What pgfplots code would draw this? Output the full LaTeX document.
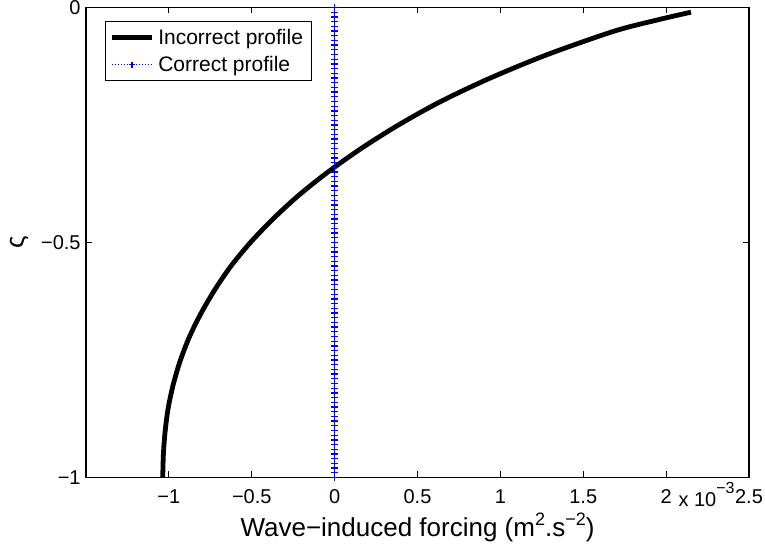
\documentclass[border=0pt]{standalone}
\usepackage{pgfplots}
\pgfplotsset{compat=1.18}
\usepackage{fontspec}
\setmainfont{Liberation Sans}

% forcing profile, x in units of 1e-3 m^2 s^-2, y = sigma
\newcommand{\incorrect}{
(-1.037,-1.00) (-1.033,-0.95) (-1.022,-0.90) (-1.003,-0.85)
(-0.972,-0.80) (-0.930,-0.75) (-0.875,-0.70) (-0.805,-0.65)
(-0.722,-0.60) (-0.625,-0.55) (-0.508,-0.50) (-0.372,-0.45)
(-0.218,-0.40) (-0.040,-0.35) (0.160,-0.30) (0.385,-0.25)
(0.640,-0.20) (0.940,-0.15) (1.285,-0.10) (1.690,-0.05)
(1.965,-0.025) (2.150,-0.010)}

\begin{document}
\begin{tikzpicture}
\begin{axis}[
  name=ax,
  scale only axis,
  width=331.5pt, height=235pt,
  xmin=-1.5, xmax=2.5, ymin=-1, ymax=0,
  xtick={-1,-0.5,0,0.5,1,1.5,2,2.5},
  xticklabels={−1,−0.5,0,0.5,1,1.5,2,2.5},
  ytick={-1,-0.5,0},
  yticklabels={−1,−0.5,0},
  tick align=inside,
  major tick length=3pt,
  tick style={black, line width=0.4pt},
  axis line style={line width=0.6pt},
  ticklabel style={font=\fontsize{10}{12}\selectfont},
  xticklabel style={inner sep=0pt, yshift=-6pt},
  yticklabel style={inner sep=0pt, xshift=-2.5pt},
  xlabel={Wave−induced forcing (m\raisebox{0.42em}{\fontsize{9}{10}\selectfont 2}.s\raisebox{0.42em}{\fontsize{9}{10}\selectfont −2})},
  xlabel style={at={(rel axis cs:0.5,0)}, anchor=base, yshift=-29.6pt,
    font=\fontsize{13}{15}\selectfont, inner sep=0pt},
  ylabel={ς},
  ylabel style={at={([xshift=-33.5pt]rel axis cs:0,0.5)}, anchor=center,
    font=\fontsize{13}{15}\selectfont, inner sep=0pt},
  legend cell align=left,
  legend image code/.code={\draw[mark repeat=2,mark phase=2,#1]
    plot coordinates {(0pt,0pt) (10pt,0pt) (20pt,0pt)};},
  legend style={at={(rel axis cs:0,1)}, anchor=north west,
    xshift=9.5pt, yshift=-6.75pt, draw=black, line width=0.5pt,
    font=\fontsize{10.5}{12}\selectfont,
    inner xsep=2pt, inner ysep=1pt, row sep=0pt,
    nodes={inner sep=2pt, text depth=0.25ex, text height=1.6ex}},
  clip=false,
]
\addplot[black, line width=2.4pt, smooth] coordinates {\incorrect};
\addlegendentry{Incorrect profile}
\addplot[blue, line width=0.5pt, dash pattern=on 0.5pt off 1pt,
  mark=+, mark size=1.6pt, mark options={solid, line width=0.65pt}]
  coordinates {
(0,-1.00)(0,-0.99)(0,-0.98)(0,-0.97)(0,-0.96)(0,-0.95)(0,-0.94)(0,-0.93)(0,-0.92)(0,-0.91)
(0,-0.90)(0,-0.89)(0,-0.88)(0,-0.87)(0,-0.86)(0,-0.85)(0,-0.84)(0,-0.83)(0,-0.82)(0,-0.81)
(0,-0.80)(0,-0.79)(0,-0.78)(0,-0.77)(0,-0.76)(0,-0.75)(0,-0.74)(0,-0.73)(0,-0.72)(0,-0.71)
(0,-0.70)(0,-0.69)(0,-0.68)(0,-0.67)(0,-0.66)(0,-0.65)(0,-0.64)(0,-0.63)(0,-0.62)(0,-0.61)
(0,-0.60)(0,-0.59)(0,-0.58)(0,-0.57)(0,-0.56)(0,-0.55)(0,-0.54)(0,-0.53)(0,-0.52)(0,-0.51)
(0,-0.50)(0,-0.49)(0,-0.48)(0,-0.47)(0,-0.46)(0,-0.45)(0,-0.44)(0,-0.43)(0,-0.42)(0,-0.41)
(0,-0.40)(0,-0.39)(0,-0.38)(0,-0.37)(0,-0.36)(0,-0.35)(0,-0.34)(0,-0.33)(0,-0.32)(0,-0.31)
(0,-0.30)(0,-0.29)(0,-0.28)(0,-0.27)(0,-0.26)(0,-0.25)(0,-0.24)(0,-0.23)(0,-0.22)(0,-0.21)
(0,-0.20)(0,-0.19)(0,-0.18)(0,-0.17)(0,-0.16)(0,-0.15)(0,-0.14)(0,-0.13)(0,-0.12)(0,-0.11)
(0,-0.10)(0,-0.09)(0,-0.08)(0,-0.07)(0,-0.06)(0,-0.05)(0,-0.04)(0,-0.03)(0,-0.02)(0,-0.01)
(0,0.00)};
\addlegendentry{Correct profile}
\node[anchor=base east, inner sep=0pt, font=\fontsize{10}{12}\selectfont,
  yshift=-14.4pt, xshift=-7pt] at (rel axis cs:1,0)
  {x 10\raisebox{0.62em}{\fontsize{8}{9}\selectfont −3}};
\end{axis}
\pgfresetboundingbox
\path ([shift={(-43pt,-33.25pt)}]ax.south west) rectangle ([shift={(8pt,3.75pt)}]ax.north east);
\end{tikzpicture}
\end{document}
